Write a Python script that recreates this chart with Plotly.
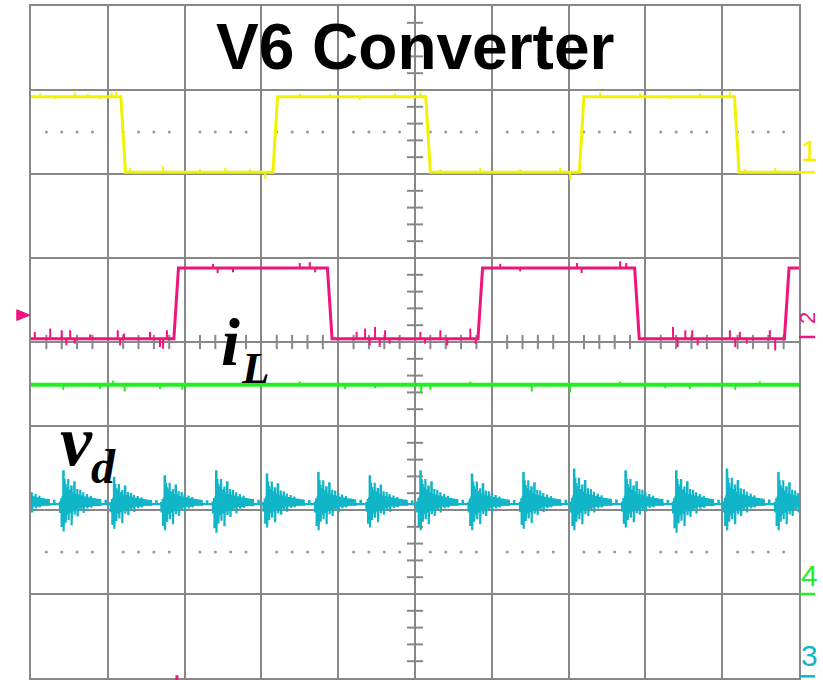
import plotly.graph_objects as go

# ---------------- data (units: screen divisions) ----------------
# Channel 1 (yellow) square wave
ch1_low, ch1_high = 2.02, 2.92
ch1_start_high = True
ch1_edges = [1.20, 3.18, 5.17, 7.17, 9.19]
ch1_glitch_pos = [0.12, 0.31, 0.57, 0.74, 0.90, 1.05, 1.11, 3.50, 3.89, 4.28, 4.74, 5.07,
                  7.41, 7.93, 8.32, 8.71, 9.10,
                  1.29, 1.72, 2.20, 2.53, 2.85, 3.05, 5.33, 5.85, 6.37, 6.89, 7.02, 9.30, 9.69]
ch1_glitch_amp = [0.04, -0.03, 0.05, 0.03, -0.03, 0.05, 0.06, 0.04, 0.03, -0.04, 0.04, 0.05,
                  0.05, 0.04, -0.03, 0.04, 0.06,
                  0.05, 0.07, 0.04, 0.05, 0.04, -0.08, 0.04, 0.05, 0.04, 0.05, -0.09, 0.04, 0.05]

# Channel 2 (pink) square wave = inductor current i_L
ch2_low, ch2_high = 0.04, 0.88
ch2_start_high = False
ch2_edges = [1.89, 3.89, 5.85, 7.89, 9.84]
ch2_glitch_pos = [0.05, 0.25, 0.40, 0.46, 0.51, 0.57, 0.77, 1.13, 1.16, 1.21, 1.55, 1.68, 1.72, 1.77,
                  4.24, 4.35, 4.41, 4.48, 4.54, 4.61, 4.67, 5.07, 5.13, 5.33, 5.42, 5.72, 5.79,
                  8.36, 8.42, 8.52, 8.61, 8.68, 9.10, 9.17, 9.23, 9.32, 9.62, 9.69,
                  2.37, 2.43, 2.63, 3.50, 3.63, 3.70, 6.11, 6.37, 7.11, 7.17, 7.67, 7.75]
ch2_glitch_amp = [0.08, 0.12, 0.10, -0.08, 0.10, -0.06, 0.05, 0.10, -0.08, 0.06, 0.08, -0.10, -0.12, 0.10,
                  0.08, 0.12, -0.08, 0.14, -0.10, 0.10, -0.06, 0.08, -0.06, 0.10, -0.08, 0.12, -0.06,
                  0.14, -0.10, 0.10, 0.10, -0.08, 0.10, -0.10, 0.08, -0.06, 0.10, -0.14,
                  0.05, -0.06, -0.05, 0.06, 0.07, -0.05, 0.05, -0.04, 0.06, -0.06, 0.08, 0.06]

# Channel 4 (green) flat trace
ch4_level = -0.51
ch4_glitch_pos = [0.42, 0.90, 1.07, 1.22, 1.68, 1.97, 3.50, 4.09, 4.48, 5.08, 5.20, 5.72,
                  6.52, 7.02, 7.67, 8.26, 8.58, 9.17, 9.49]
ch4_glitch_amp = [-0.06, -0.05, 0.05, -0.08, -0.05, -0.06, 0.04, -0.05, -0.04, -0.10, -0.06, 0.04,
                  -0.08, -0.09, 0.04, -0.04, -0.05, -0.06, 0.04]

# Channel 3 (cyan) diode voltage v_d : ringing bursts
ch3_base = -1.93
ch3_burst_pos = [-0.25, 0.42, 1.08, 1.74, 2.41, 3.07, 3.74, 4.41, 5.07, 5.74, 6.41, 7.07, 7.74, 8.40, 9.06, 9.73]
ch3_burst_up = [1.0, 1.0, 0.8, 0.85, 1.0, 0.9, 0.95, 0.85, 1.0, 0.9, 0.95, 1.05, 1.0, 1.0, 1.05, 0.95]
ch3_burst_dn = [1.0, 1.05, 0.95, 1.0, 1.1, 0.9, 1.0, 0.9, 1.0, 1.0, 0.95, 1.0, 0.9, 1.1, 1.0, 1.0]
ring_dx = [-0.045, -0.026, -0.012, 0.0, 0.013, 0.026, 0.045, 0.065, 0.085, 0.104, 0.125, 0.143,
           0.162, 0.182, 0.20, 0.221, 0.24, 0.26, 0.285, 0.31, 0.335, 0.36, 0.39, 0.42, 0.45, 0.48, 0.55]
ring_up = [0.03, 0.06, 0.10, 0.39, 0.30, 0.24, 0.20, 0.30, 0.16, 0.21, 0.14, 0.26, 0.12, 0.18,
           0.10, 0.17, 0.09, 0.14, 0.08, 0.12, 0.07, 0.10, 0.06, 0.07, 0.05, 0.06, 0.04]
ring_dn = [0.10, 0.26, 0.15, 0.31, 0.20, 0.21, 0.12, 0.18, 0.10, 0.24, 0.08, 0.12, 0.07, 0.14,
           0.05, 0.07, 0.04, 0.10, 0.03, 0.05, 0.03, 0.04, 0.02, 0.02, 0.02, 0.02, 0.01]

channel_labels = ["1", "2", "4", "3"]
title_text = "V6 Converter"

# ---------------- styling ----------------
GRID = "#888888"
YEL = "#f2f200"
PINK = "#f0147c"
GRN = "#22ee22"
CYAN = "#10b6c8"
EDGE_W = 0.06


def square(lo, hi, start_high, edges):
    state = start_high
    xs, ys = [0.0], [hi if state else lo]
    for c in edges:
        a = hi if state else lo
        b = lo if state else hi
        xs += [c - EDGE_W / 2, c + EDGE_W / 2]
        ys += [a, b]
        state = not state
    xs.append(10.0)
    ys.append(hi if state else lo)
    return xs, ys


def level_at(lo, hi, start_high, edges, x):
    state = start_high
    for c in edges:
        if x >= c:
            state = not state
    return hi if state else lo


def glitches(pos, amp, lvl_fn):
    xs, ys = [], []
    for p, a in zip(pos, amp):
        l = lvl_fn(p)
        xs += [p, p, None]
        ys += [l, l + a, None]
    return xs, ys


fig = go.Figure()

# dotted graticule rows
dot_x, dot_y = [], []
for row in (2.5, -2.5):
    for k in range(50):
        if k % 5 != 0:
            dot_x.append(k * 0.2)
            dot_y.append(row)
fig.add_trace(go.Scatter(x=dot_x, y=dot_y, mode="markers",
                         marker=dict(size=3, color="#999999"), hoverinfo="skip"))

# channel 1
x1, y1 = square(ch1_low, ch1_high, ch1_start_high, ch1_edges)
fig.add_trace(go.Scatter(x=x1, y=y1, mode="lines", line=dict(color=YEL, width=3), hoverinfo="skip"))
gx, gy = glitches(ch1_glitch_pos, ch1_glitch_amp,
                  lambda p: level_at(ch1_low, ch1_high, ch1_start_high, ch1_edges, p))
fig.add_trace(go.Scatter(x=gx, y=gy, mode="lines", line=dict(color=YEL, width=2), hoverinfo="skip"))

# channel 2
x2, y2 = square(ch2_low, ch2_high, ch2_start_high, ch2_edges)
fig.add_trace(go.Scatter(x=x2, y=y2, mode="lines", line=dict(color=PINK, width=3), hoverinfo="skip"))
gx, gy = glitches(ch2_glitch_pos, ch2_glitch_amp,
                  lambda p: level_at(ch2_low, ch2_high, ch2_start_high, ch2_edges, p))
fig.add_trace(go.Scatter(x=gx, y=gy, mode="lines", line=dict(color=PINK, width=2), hoverinfo="skip"))

# channel 4
fig.add_trace(go.Scatter(x=[0, 10], y=[ch4_level, ch4_level], mode="lines",
                         line=dict(color=GRN, width=4), hoverinfo="skip"))
gx, gy = glitches(ch4_glitch_pos, ch4_glitch_amp, lambda p: ch4_level)
fig.add_trace(go.Scatter(x=gx, y=gy, mode="lines", line=dict(color=GRN, width=2), hoverinfo="skip"))

# channel 3
cx, cy = [0.0], [ch3_base]
for c, su, sd in zip(ch3_burst_pos, ch3_burst_up, ch3_burst_dn):
    for dx, u, d in zip(ring_dx, ring_up, ring_dn):
        x = c + dx
        cx += [x, x, x + 0.005, x + 0.005, x + 0.010]
        cy += [ch3_base, ch3_base + u * su, ch3_base + u * su, ch3_base - d * sd, ch3_base]
cx.append(10.0)
cy.append(ch3_base)
fig.add_trace(go.Scatter(x=cx, y=cy, mode="lines", line=dict(color=CYAN, width=2.2), hoverinfo="skip"))

shapes = []
# centre-axis minor ticks
for k in range(50):
    if k % 5 != 0:
        shapes.append(dict(type="line", xref="x", yref="y", x0=k * 0.2, x1=k * 0.2, y0=-0.085, y1=0.085,
                           line=dict(color=GRID, width=2), layer="below"))
for k in range(40):
    if k % 5 != 0:
        yv = -4 + k * 0.2
        shapes.append(dict(type="line", xref="x", yref="y", x0=4.895, x1=5.105, y0=yv, y1=yv,
                           line=dict(color=GRID, width=2), layer="below"))


def ypaper(ydiv):
    return (ydiv + 4) / 8.0


# channel ground markers on the right
for lvl, col in ((2.02, YEL), (0.06, PINK), (-3.0, GRN), (-3.98, CYAN)):
    shapes.append(dict(type="line", xref="paper", yref="paper", x0=1.0, x1=1.021,
                       y0=ypaper(lvl), y1=ypaper(lvl), line=dict(color=col, width=2.5)))
# trigger marker on the left
shapes.append(dict(type="path", xref="paper", yref="paper",
                   path="M -0.0185 0.548 L -0.0015 0.540 L -0.0185 0.532 Z",
                   fillcolor=PINK, line=dict(color=PINK, width=1)))
shapes.append(dict(type="line", xref="paper", yref="paper", x0=0.190, x1=0.190, y0=-0.003, y1=0.004,
                   line=dict(color=PINK, width=3)))

annotations = [
    dict(x=5.0, y=3.51, xref="x", yref="y", text="<b>" + title_text + "</b>", showarrow=False,
         font=dict(family="Liberation Sans, Arial", size=64, color="black"),
         xanchor="center", yanchor="middle"),
    dict(x=2.60, y=0.0, xref="x", yref="y", text="<b><i>i</i></b>", showarrow=False,
         font=dict(family="Liberation Serif, Times New Roman", size=68, color="black"),
         xanchor="center", yanchor="middle"),
    dict(x=2.92, y=-0.31, xref="x", yref="y", text="<b><i>L</i></b>", showarrow=False,
         font=dict(family="Liberation Serif, Times New Roman", size=45, color="black"),
         xanchor="center", yanchor="middle"),
    dict(x=0.59, y=-1.18, xref="x", yref="y", text="<b><i>v</i></b>", showarrow=False,
         font=dict(family="Liberation Serif, Times New Roman", size=72, color="black"),
         xanchor="center", yanchor="middle"),
    dict(x=0.95, y=-1.48, xref="x", yref="y", text="<b><i>d</i></b>", showarrow=False,
         font=dict(family="Liberation Serif, Times New Roman", size=48, color="black"),
         xanchor="center", yanchor="middle"),
]
label_pos = [(1.0143, 0.7857, YEL, 0, 30), (1.0105, 0.5357, PINK, -90, 22),
             (1.0143, 0.153, GRN, 0, 30), (1.0143, 0.034, CYAN, 0, 30)]
for txt, (px, py, col, ang, sz) in zip(channel_labels, label_pos):
    annotations.append(dict(x=px, y=py, xref="paper", yref="paper", text=txt, showarrow=False,
                            textangle=ang, font=dict(family="Liberation Sans Narrow, Arial", size=sz, color=col),
                            xanchor="center", yanchor="middle"))

fig.update_layout(
    width=823, height=680,
    margin=dict(l=31, r=24, t=6, b=2),
    paper_bgcolor="white", plot_bgcolor="white",
    showlegend=False,
    shapes=shapes, annotations=annotations,
    xaxis=dict(range=[0, 10], tick0=0, dtick=1, showgrid=True, gridcolor=GRID, gridwidth=2,
               showline=True, mirror=True, linecolor=GRID, linewidth=2, zeroline=False,
               showticklabels=False, ticks="", fixedrange=True),
    yaxis=dict(range=[-4, 4], tick0=0, dtick=1, showgrid=True, gridcolor=GRID, gridwidth=2,
               showline=True, mirror=True, linecolor=GRID, linewidth=2, zeroline=False,
               showticklabels=False, ticks="", fixedrange=True),
)

fig.write_html("out.html")
